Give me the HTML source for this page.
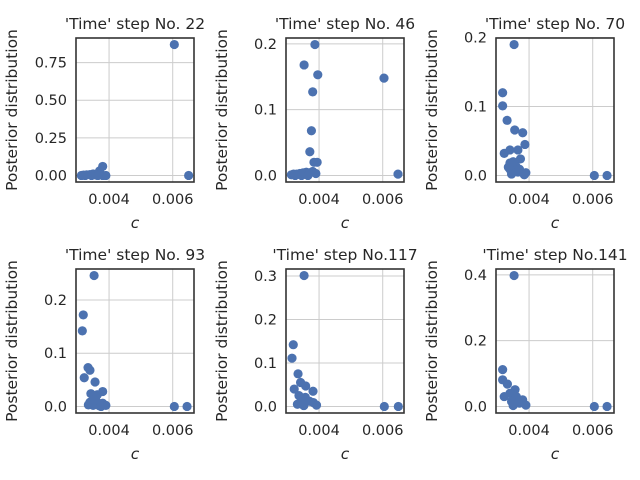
<!DOCTYPE html>
<html><head><meta charset="utf-8"><style>
html,body{margin:0;padding:0;background:#fff}
svg{display:block}
text{font-family:"DejaVu Sans","Liberation Sans",sans-serif;fill:#262626}
</style></head><body>
<svg id="fig" width="640" height="480" viewBox="0 0 640 480" xmlns="http://www.w3.org/2000/svg"></svg>
<script>
const titles = ["'Time' step No. 22","'Time' step No. 46","'Time' step No. 70","'Time' step No. 93","'Time' step No.117","'Time' step No.141"];
const xTicks = [0.004, 0.006];
const xTickLabels = ["0.004","0.006"];
const yTicks1 = [0, 0.25, 0.5, 0.75];
const yTickLabels1 = ["0.00","0.25","0.50","0.75"];
const yTicks2 = [0, 0.1, 0.2];
const yTickLabels2 = ["0.0","0.1","0.2"];
const yTicks3 = [0, 0.1, 0.2];
const yTickLabels3 = ["0.0","0.1","0.2"];
const yTicks4 = [0, 0.1, 0.2];
const yTickLabels4 = ["0.0","0.1","0.2"];
const yTicks5 = [0, 0.1, 0.2, 0.3];
const yTickLabels5 = ["0.0","0.1","0.2","0.3"];
const yTicks6 = [0, 0.2, 0.4];
const yTickLabels6 = ["0.0","0.2","0.4"];

const c1 = [0.00313,0.0032,0.0033,0.0034,0.0035,0.0036,0.0037,0.0038,0.0038,0.0037,0.0036,0.0039,0.00325,0.00345,0.00365,0.00605,0.0065];
const p1 = [0.0,0.002,0.004,0.006,0.01,0.008,0.03,0.06,0.0,0.005,0.002,0.0,0.0,0.0,0.0,0.87,0.0];
const c2 = [0.00387,0.00353,0.00396,0.00604,0.0038,0.00376,0.00371,0.00384,0.00394,0.00313,0.0032,0.0033,0.0034,0.0035,0.0036,0.0037,0.0038,0.0039,0.00325,0.00345,0.00365,0.00648];
const p2 = [0.199,0.168,0.153,0.148,0.127,0.068,0.036,0.02,0.02,0.001,0.002,0.002,0.003,0.004,0.005,0.004,0.006,0.003,0.0,0.0,0.0,0.002];
const c3 = [0.00353,0.00317,0.00317,0.00331,0.00355,0.0038,0.00387,0.00322,0.0034,0.00365,0.00373,0.0034,0.00358,0.0034,0.0037,0.0039,0.00345,0.00385,0.00335,0.0035,0.00365,0.00605,0.00645];
const p3 = [0.190,0.120,0.101,0.080,0.066,0.062,0.045,0.032,0.037,0.037,0.024,0.018,0.014,0.009,0.009,0.004,0.002,0.001,0.012,0.02,0.005,0.0,0.0];
const c4 = [0.00353,0.00319,0.00316,0.00334,0.0034,0.00322,0.00356,0.0038,0.00343,0.00363,0.0034,0.0036,0.0038,0.0039,0.0035,0.0037,0.00335,0.00355,0.00375,0.00605,0.00645];
const p4 = [0.246,0.172,0.142,0.073,0.068,0.054,0.046,0.028,0.024,0.022,0.008,0.01,0.006,0.002,0.002,0.001,0.003,0.012,0.0,0.0,0.0];
const c5 = [0.00353,0.00319,0.00315,0.00334,0.00322,0.00342,0.00358,0.00381,0.00337,0.00357,0.00382,0.00392,0.00332,0.00352,0.0037,0.00345,0.00605,0.00649];
const p5 = [0.301,0.142,0.111,0.075,0.040,0.055,0.047,0.035,0.025,0.021,0.009,0.003,0.005,0.002,0.012,0.012,0.0,0.0];
const c6 = [0.00353,0.00317,0.00317,0.00332,0.00356,0.0034,0.00322,0.0036,0.0038,0.0037,0.0039,0.0035,0.00345,0.00365,0.00605,0.00645];
const p6 = [0.398,0.112,0.081,0.068,0.051,0.04,0.03,0.03,0.02,0.01,0.004,0.003,0.015,0.012,0.0,0.0];

const panels = [
 {c:c1,p:p1,t:yTicks1,l:yTickLabels1},{c:c2,p:p2,t:yTicks2,l:yTickLabels2},{c:c3,p:p3,t:yTicks3,l:yTickLabels3},
 {c:c4,p:p4,t:yTicks4,l:yTickLabels4},{c:c5,p:p5,t:yTicks5,l:yTickLabels5},{c:c6,p:p6,t:yTicks6,l:yTickLabels6}];
const colLeft = [76,286,496], rowTop = [38,269], W = 118, H = 144;
const NS = "http://www.w3.org/2000/svg";
const svg = document.getElementById('fig');
function mk(tag, attrs, parent){const e=document.createElementNS(NS,tag);for(const k in attrs)e.setAttribute(k,attrs[k]);(parent||svg).appendChild(e);return e;}
const allC = [].concat(c1,c2,c3,c4,c5,c6);
const cMin = Math.min(...allC), cMax = Math.max(...allC), cR = cMax - cMin;
panels.forEach((pn,i)=>{
  const L = colLeft[i%3], T = rowTop[Math.floor(i/3)];
  const g = mk('g',{});
  
  
  const yMax = Math.max(...pn.p), yMin = Math.min(...pn.p), yR = yMax - yMin;
  const y0 = yMin - 0.05*yR, y1 = yMax + 0.05*yR;
  const x0 = cMin - 0.05*cR, x1 = cMax + 0.05*cR;
  const sx = v => L + (v - x0)/(x1 - x0)*W;
  const sy = v => T + H - (v - y0)/(y1 - y0)*H;
  xTicks.forEach((v,k)=>{
    const x = sx(v);
    const gl = mk('line',{x1:x,x2:x,y1:T,y2:T+H,stroke:'#cccccc','stroke-width':1},g);
    
    
    const tx = mk('text',{x:x,y:T+H+22,'text-anchor':'middle','font-size':14.5},g);
    tx.textContent = xTickLabels[k];
    
    
  });
  pn.t.forEach((v,k)=>{
    const y = sy(v);
    const gl = mk('line',{x1:L,x2:L+W,y1:y,y2:y,stroke:'#cccccc','stroke-width':1},g);
    
    
    const tx = mk('text',{x:L-9,y:y+5,'text-anchor':'end','font-size':14.5},g);
    tx.textContent = pn.l[k];
    
    
  });
  pn.c.forEach((cv,k)=>{
    const d = mk('circle',{cx:sx(cv),cy:sy(pn.p[k]),r:4.6,fill:'#4c72b0'},g);
    
    
  });
  const fr = mk('rect',{x:L,y:T,width:W,height:H,fill:'none',stroke:'#333333','stroke-width':1.6},g);
  
  
  const tt = mk('text',{x:L+W/2,y:T-9,'text-anchor':'middle','font-size':15.5},g);
  tt.textContent = titles[i];
  
  
  const xl = mk('text',{x:L+W/2,y:T+H+46,'text-anchor':'middle','font-size':15.5,'font-style':'italic'},g);
  xl.textContent = 'c';
  
  
  const yc = T+H/2, yx = L-59;
  const yl = mk('text',{x:yx,y:yc,'text-anchor':'middle','font-size':15.5,transform:'rotate(-90 '+yx+' '+yc+')'},g);
  yl.textContent = 'Posterior distribution';
  
  
});
</script>
</body></html>
